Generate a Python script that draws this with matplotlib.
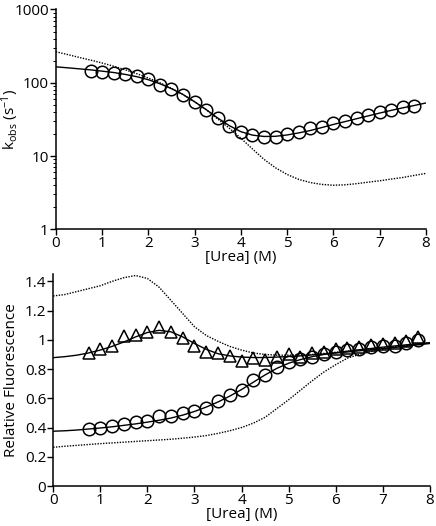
import matplotlib

matplotlib.use("Agg")
import matplotlib.pyplot as plt
from matplotlib.ticker import LogLocator, NullFormatter, FixedLocator

# urea concentrations of the measured points and of the drawn curves
urea_pts = [0.75, 1.0, 1.25, 1.5, 1.75, 2.0, 2.25, 2.5, 2.75, 3.0, 3.25, 3.5, 3.75, 4.0, 4.25,
            4.5, 4.75, 5.0, 5.25, 5.5, 5.75, 6.0, 6.25, 6.5, 6.75, 7.0, 7.25, 7.5, 7.75]
urea_grid = [0, 0.25, 0.5, 0.75, 1.0, 1.25, 1.5, 1.75, 2.0, 2.25, 2.5, 2.75, 3.0, 3.25, 3.5,
             3.75, 4.0, 4.25, 4.5, 4.75, 5.0, 5.25, 5.5, 5.75, 6.0, 6.25, 6.5, 6.75, 7.0,
             7.25, 7.5, 7.75, 8.0]

# --- top panel: observed rate constants (s^-1) ---
kobs = [146, 141, 137, 132, 122, 112, 94, 82, 68, 55, 43, 33, 26, 21.5, 19.3,
        18.3, 18.3, 19.8, 21.5, 23.8, 25.3, 28.0, 30.5, 33.0, 36.0, 39.5, 43.0, 46.0, 48.5]
kobs_fit = [165, 160, 155, 150, 144, 138, 130, 121, 110, 97, 83, 69, 55, 43, 33, 26, 21.5,
            19.3, 18.5, 18.6, 19.4, 20.7, 22.3, 24.5, 27, 29.5, 32.3, 35.3, 38.6, 42, 45.5,
            49, 53]
kobs_sim = [265, 243, 222, 204, 186, 168, 150, 133, 116, 100, 84, 69, 55, 43, 32, 24, 17.5,
            12.5, 9.0, 6.9, 5.6, 4.8, 4.35, 4.1, 4.0, 4.05, 4.2, 4.4, 4.6, 4.85, 5.1, 5.45, 5.8]

# --- bottom panel: relative fluorescence ---
fl_tri = [0.91, 0.94, 0.96, 1.025, 1.035, 1.055, 1.085, 1.055, 1.01, 0.955, 0.92, 0.91, 0.89,
          0.855, 0.875, 0.86, 0.885, 0.905, 0.885, 0.91, 0.92, 0.94, 0.945, 0.95, 0.965,
          0.97, 0.975, 0.99, 1.02]
fl_circ = [0.39, 0.40, 0.41, 0.425, 0.435, 0.445, 0.48, 0.48, 0.50, 0.51, 0.535, 0.585, 0.625,
           0.655, 0.725, 0.76, 0.815, 0.85, 0.87, 0.885, 0.9, 0.915, 0.93, 0.94, 0.95,
           0.955, 0.96, 0.975, 1.0]
fl_tri_fit = [0.878, 0.885, 0.895, 0.91, 0.93, 0.955, 0.985, 1.02, 1.05, 1.065, 1.055, 1.02,
              0.975, 0.935, 0.905, 0.89, 0.882, 0.879, 0.879, 0.882, 0.886, 0.89, 0.897,
              0.903, 0.91, 0.917, 0.925, 0.932, 0.94, 0.948, 0.957, 0.966, 0.975]
fl_circ_fit = [0.375, 0.378, 0.383, 0.39, 0.397, 0.405, 0.415, 0.425, 0.437, 0.45, 0.465,
               0.485, 0.51, 0.54, 0.575, 0.615, 0.66, 0.71, 0.76, 0.805, 0.84, 0.865, 0.885,
               0.9, 0.912, 0.922, 0.932, 0.941, 0.95, 0.958, 0.966, 0.973, 0.98]
fl_hi_sim = [1.30, 1.31, 1.33, 1.35, 1.37, 1.40, 1.425, 1.44, 1.42, 1.36, 1.27, 1.18, 1.09,
             1.03, 0.99, 0.955, 0.93, 0.91, 0.90, 0.895, 0.895, 0.897, 0.9, 0.907, 0.915,
             0.922, 0.93, 0.937, 0.945, 0.952, 0.96, 0.97, 0.98]
fl_lo_sim = [0.265, 0.272, 0.278, 0.284, 0.29, 0.295, 0.30, 0.305, 0.31, 0.315, 0.32, 0.327,
             0.335, 0.345, 0.36, 0.378, 0.40, 0.43, 0.47, 0.53, 0.59, 0.655, 0.72, 0.78, 0.83,
             0.875, 0.90, 0.92, 0.935, 0.948, 0.96, 0.97, 0.98]

plt.rcParams["font.family"] = ["Open Sans", "DejaVu Sans"]
plt.rcParams["mathtext.fontset"] = "custom"
plt.rcParams["mathtext.rm"] = "Open Sans"
plt.rcParams["mathtext.it"] = "Open Sans"
plt.rcParams["font.size"] = 11

fig = plt.figure(figsize=(4.36, 5.26), dpi=100)
ax1 = fig.add_axes([0.128, 0.564, 0.849, 0.418])
ax2 = fig.add_axes([0.122, 0.076, 0.864, 0.403])

line_kw = dict(color="black", lw=1.0)
dot_kw = dict(color="black", lw=1.0, ls=(0, (1, 1)))
mk_kw = dict(ls="none", color="black", mfc="none", mew=1.1, ms=9)


def style(ax):
    for side in ("top", "right"):
        ax.spines[side].set_visible(False)
    for side in ("left", "bottom"):
        ax.spines[side].set_linewidth(1.1)
    ax.tick_params(which="major", direction="out", length=4, width=1.0, pad=1)
    ax.tick_params(which="minor", direction="out", length=2.2, width=0.7)
    ax.set_xlim(0, 8)
    ax.set_xticks(range(0, 9))
    ax.set_xlabel("[Urea] (M)", labelpad=-1)


ax1.plot(urea_grid, kobs_sim, **dot_kw)
ax1.plot(urea_grid, kobs_fit, **line_kw)
ax1.plot(urea_pts, kobs, marker="o", **mk_kw)
ax1.set_yscale("log")
ax1.set_ylim(1, 1000)
ax1.yaxis.set_major_locator(FixedLocator([1, 10, 100, 1000]))
ax1.set_yticklabels(["1", "10", "100", "1000"])
ax1.yaxis.set_minor_locator(LogLocator(base=10, subs=range(2, 10)))
ax1.yaxis.set_minor_formatter(NullFormatter())
ax1.set_ylabel(r"k$_{\mathregular{obs}}$ (s$^{\mathregular{-1}}$)")
ax1.yaxis.set_label_coords(-0.095, 0.5)
style(ax1)

ax2.plot(urea_grid, fl_hi_sim, **dot_kw)
ax2.plot(urea_grid, fl_lo_sim, **dot_kw)
ax2.plot(urea_grid, fl_tri_fit, **line_kw)
ax2.plot(urea_grid, fl_circ_fit, **line_kw)
ax2.plot(urea_pts, fl_tri, marker="^", **mk_kw)
ax2.plot(urea_pts, fl_circ, marker="o", **mk_kw)
ax2.set_ylim(0, 1.45)
ax2.set_yticks([0, 0.2, 0.4, 0.6, 0.8, 1.0, 1.2, 1.4])
ax2.set_yticklabels(["0", "0.2", "0.4", "0.6", "0.8", "1", "1.2", "1.4"])
ax2.set_ylabel("Relative Fluorescence")
ax2.yaxis.set_label_coords(-0.09, 0.5)
style(ax2)

fig.savefig("out.png", dpi=100)
